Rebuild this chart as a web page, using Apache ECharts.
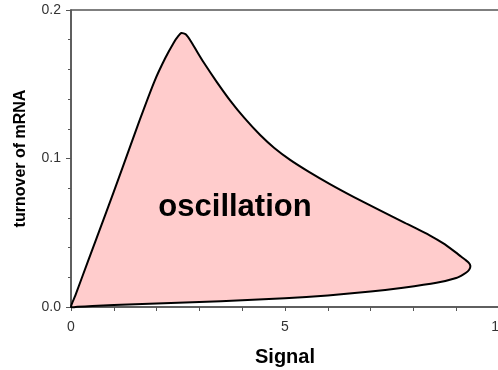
<!DOCTYPE html>
<html>
<head>
<meta charset="utf-8">
<script src="https://cdn.jsdelivr.net/npm/echarts@6/dist/echarts.min.js"></script>
<style>
  html, body { margin: 0; padding: 0; background: #fff; }
  #chart { width: 498px; height: 370px; }
</style>
</head>
<body>
<div id="chart"></div>
<script>
// Boundary of the oscillatory region, traced from the origin up the left edge,
// over the peak, out to the right tip and back along the lower edge
const signalValues = [
  0, 0.1, 0.4, 0.8, 1.2, 1.6, 1.95, 2.2, 2.4, 2.5, 2.58, 2.68, 2.8, 2.95, 3.09,
  3.4, 3.72, 4.05, 4.42, 4.75, 5.12, 5.55, 6.05, 6.6, 7.22, 7.8, 8.39, 8.7,
  8.95, 9.12, 9.23, 9.3, 9.33, 9.32, 9.27, 9.17, 9.0, 8.54, 7.76, 7.0, 6.0, 5.0,
  4.0, 3.0, 2.0, 1.0, 0.5, 0.15
];
const turnoverValues = [
  0, 0.0077, 0.031, 0.062, 0.0935, 0.1255, 0.1520, 0.1675, 0.1780, 0.1822, 0.1845, 0.1836, 0.1790, 0.1717, 0.1651,
  0.1518, 0.1390, 0.1273, 0.1158, 0.1071, 0.0991, 0.0912, 0.0828, 0.0742, 0.0650, 0.0567, 0.0481, 0.0428,
  0.0376, 0.0338, 0.0314, 0.0296, 0.0278, 0.0260, 0.0240, 0.0220, 0.0195, 0.0163, 0.0130, 0.0104, 0.0078, 0.0059,
  0.0045, 0.0034, 0.0024, 0.0013, 0.0006, 0.0002
];
const xTicks = { min: 0, max: 10, interval: 5 };
const yTicks = { min: 0, max: 0.2, interval: 0.1 };
const regionLabel = 'oscillation';

const boundary = signalValues.map((x, i) => [x, turnoverValues[i]]);

const chart = echarts.init(document.getElementById('chart'), null, { renderer: 'canvas' });
const axisColor = '#555';
const font = '"Liberation Sans", Arial, sans-serif';

chart.setOption({
  animation: false,
  grid: {
    left: 71, right: -1, top: 10, bottom: 63,
    outerBoundsMode: 'none', containLabel: false,
    show: true, borderColor: axisColor, borderWidth: 1.5
  },
  xAxis: {
    type: 'value', min: xTicks.min, max: xTicks.max, interval: xTicks.interval,
    name: 'Signal', nameLocation: 'middle', nameGap: 40,
    nameTextStyle: { fontFamily: font, fontWeight: 'bold', fontSize: 20, color: '#000' },
    axisLine: { show: true, onZero: false, lineStyle: { color: axisColor, width: 1.5 } },
    axisTick: { show: true, inside: false, length: 4, lineStyle: { color: axisColor } },
    minorTick: { show: true, splitNumber: 5, length: 4, lineStyle: { color: axisColor } },
    splitLine: { show: false },
    axisLabel: { fontFamily: font, fontSize: 14, color: '#333', margin: 13,
      hideOverlap: false, formatter: v => String(v) }
  },
  yAxis: {
    type: 'value', min: yTicks.min, max: yTicks.max, interval: yTicks.interval,
    name: 'turnover of mRNA', nameLocation: 'middle', nameGap: 42,
    nameTextStyle: { fontFamily: font, fontWeight: 'bold', fontSize: 16, color: '#000' },
    axisLine: { show: true, lineStyle: { color: axisColor, width: 1.5 } },
    axisTick: { show: true, inside: false, length: 5, lineStyle: { color: axisColor } },
    minorTick: { show: true, splitNumber: 5, length: 3, lineStyle: { color: axisColor } },
    splitLine: { show: false },
    axisLabel: { fontFamily: font, fontSize: 14, color: '#333', margin: 10,
      formatter: v => v.toFixed(1) }
  },
  series: [{
    type: 'custom',
    coordinateSystem: 'cartesian2d',
    z: 2,
    data: [0],
    encode: { x: [], y: [] },
    renderItem: function (params, api) {
      const pts = boundary.map(p => api.coord(p));
      return {
        type: 'polygon',
        shape: { points: pts, smooth: 0.2 },
        style: { fill: '#ffcccc', stroke: '#000', lineWidth: 2, lineJoin: 'round' }
      };
    }
  }],
  graphic: [{
    type: 'text',
    z: 100,
    x: 235, y: 207,
    style: {
      text: regionLabel, fontFamily: font, fontWeight: 'bold', fontSize: 31,
      fill: '#000', align: 'center', verticalAlign: 'middle'
    }
  }]
});
</script>
</body>
</html>
